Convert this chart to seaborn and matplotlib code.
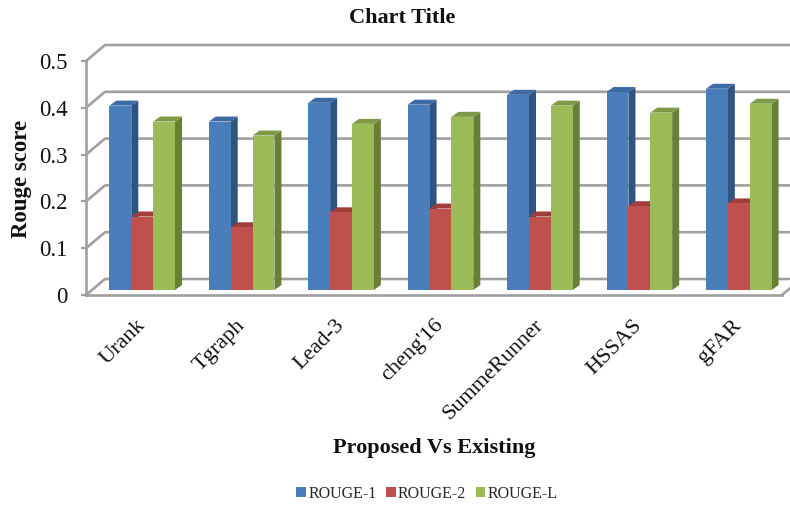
import numpy as np
import pandas as pd
import matplotlib
matplotlib.use("Agg")
import matplotlib.pyplot as plt
import seaborn as sns
from matplotlib.patches import Polygon, Patch
from matplotlib.transforms import ScaledTranslation

# ── DATA ──────────────────────────────────────────────────────────
methods = ["Urank", "Tgraph", "Lead-3", "cheng'16", "SummeRunner", "HSSAS", "gFAR"]
metrics = ["ROUGE-1", "ROUGE-2", "ROUGE-L"]
rouge1 = [0.394, 0.360, 0.400, 0.396, 0.417, 0.423, 0.430]
rouge2 = [0.157, 0.134, 0.166, 0.174, 0.157, 0.179, 0.185]
rougeL = [0.360, 0.330, 0.355, 0.370, 0.394, 0.379, 0.398]
yticks = [0, 0.1, 0.2, 0.3, 0.4, 0.5]
ytick_labels = ["0", "0.1", "0.2", "0.3", "0.4", "0.5"]

df = pd.DataFrame({
    "method": methods * 3,
    "metric": [m for m in metrics for _ in methods],
    "score": rouge1 + rouge2 + rougeL,
})

# excel-ish colours: front, side, top
front = ["#4a7ebb", "#c0504d", "#9bbb59"]
side = ["#2f5382", "#8a3532", "#687f36"]
top = ["#3d6aa3", "#a13e3b", "#7e9a46"]
grid_c = "#a0a0a0"

sns.set_theme(style="white")
plt.rcParams["font.family"] = ["Liberation Serif", "DejaVu Serif"]

W, H, DPI = 790, 511, 100
fig = plt.figure(figsize=(W / DPI, H / DPI), dpi=DPI)
# front plane of the 3d box in pixels
x0_px, x1_px, y0_px, y1_px = 86, 782, 295, 61
ax = fig.add_axes([x0_px / W, 1 - y0_px / H, (x1_px - x0_px) / W, (y0_px - y1_px) / H])

sns.barplot(data=df, x="method", y="score", hue="metric", palette=front,
            width=0.66, gap=0, saturation=1, errorbar=None, legend=False,
            linewidth=0, ax=ax)
ax.set_xlim(-0.5, len(methods) - 0.5)
ax.set_ylim(0, 0.5)

# pixel -> data helpers
px_x = (len(methods)) / (x1_px - x0_px)
px_y = 0.5 / (y0_px - y1_px)

# bars sit a third of the way into the box
shift = ScaledTranslation(6.5 / DPI, 5 / DPI, fig.dpi_scale_trans)
depth_x, depth_y = 7 * px_x, 5 * px_y
bar_tr = ax.transData + shift

n = len(methods)
for k, bar in enumerate(ax.patches[:3 * n]):
    h_idx = k // n
    bx, bw, bh = bar.get_x(), bar.get_width(), bar.get_height()
    z = 3 + (k % n) * 3 + h_idx * 0.3
    bar.set_transform(bar_tr)
    bar.set_zorder(z)
    s = Polygon([(bx + bw, 0), (bx + bw, bh), (bx + bw + depth_x, bh + depth_y),
                 (bx + bw + depth_x, depth_y)], closed=True,
                facecolor=side[h_idx], edgecolor="none", transform=bar_tr, zorder=z - 0.1)
    t = Polygon([(bx, bh), (bx + bw, bh), (bx + bw + depth_x, bh + depth_y),
                 (bx + depth_x, bh + depth_y)], closed=True,
                facecolor=top[h_idx], edgecolor="none", transform=bar_tr, zorder=z - 0.1)
    ax.add_patch(s)
    ax.add_patch(t)

# back wall + floor gridlines
back_x, back_y = 19 * px_x, 16 * px_y
xl, xr = -0.5, n - 0.5
for v in yticks:
    ax.plot([xl, xl + back_x, xr + 3 * back_x], [v, v + back_y, v + back_y],
            color=grid_c, lw=1.9, clip_on=False, zorder=1, solid_capstyle="butt")
ax.plot([xr, xr + back_x], [0, back_y], color=grid_c, lw=1.9, clip_on=False, zorder=1)

for sp in ["top", "right"]:
    ax.spines[sp].set_visible(False)
for sp in ["left", "bottom"]:
    ax.spines[sp].set_color(grid_c)
    ax.spines[sp].set_linewidth(1.9)
    ax.spines[sp].set_zorder(2)

ax.set_yticks(yticks)
ax.set_yticklabels(ytick_labels)
ax.tick_params(axis="y", length=3.5, width=1.6, color=grid_c, pad=10,
               labelsize=16.5, labelcolor="#111111", left=True, direction="out")
ax.set_xticks(range(n))
ax.set_xticklabels(methods, rotation=45, ha="right", rotation_mode="anchor",
                   fontsize=16, color="#111111")
ax.tick_params(axis="x", length=0, pad=15)
ax.set_xlabel("")
ax.set_ylabel("")

fig.text(402 / W, 1 - 18 / H, "Chart Title", ha="center", va="center",
         fontsize=16, fontweight="bold", color="#111111")
fig.text(434 / W, 1 - 448 / H, "Proposed Vs Existing", ha="center", va="center",
         fontsize=16, fontweight="bold", color="#111111")
fig.text(22 / W, 1 - 179 / H, "Rouge score", ha="center", va="center",
         rotation=90, fontsize=16.5, fontweight="bold", color="#111111")

handles = [Patch(facecolor=c, edgecolor="none", label=m) for c, m in zip(front, metrics)]
fig.legend(handles=handles, loc="center", bbox_to_anchor=(427 / W, 1 - 494 / H),
           ncol=3, frameon=False, fontsize=11.5, handlelength=0.6, handleheight=0.6,
           handletextpad=0.15, columnspacing=0.6)

fig.savefig("out.png", dpi=DPI)
